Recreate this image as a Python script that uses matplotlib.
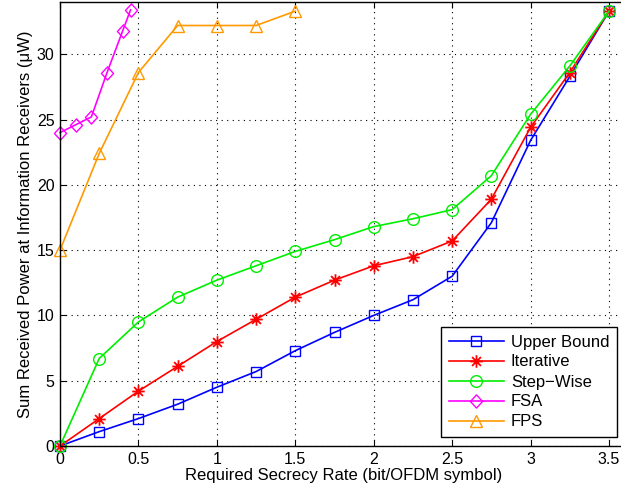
import numpy as np
import matplotlib.pyplot as plt
from matplotlib.path import Path

plt.rcParams['font.family'] = ['Liberation Sans', 'DejaVu Sans']

rate = [0, 0.25, 0.5, 0.75, 1.0, 1.25, 1.5, 1.75, 2.0, 2.25, 2.5, 2.75, 3.0, 3.25, 3.5]
upper_bound = [0, 1.1, 2.1, 3.2, 4.5, 5.7, 7.3, 8.7, 10.0, 11.2, 13.0, 17.1, 23.4, 28.3, 33.3]
iterative = [0, 2.1, 4.2, 6.1, 8.0, 9.7, 11.4, 12.7, 13.8, 14.5, 15.7, 18.9, 24.4, 28.6, 33.3]
step_wise = [0, 6.7, 9.5, 11.4, 12.7, 13.8, 14.9, 15.8, 16.8, 17.4, 18.1, 20.7, 25.4, 29.1, 33.3]

fsa_rate = [0, 0.1, 0.2, 0.3, 0.4, 0.45]
fsa = [24.0, 24.6, 25.2, 28.6, 31.8, 33.4]

fps_rate = [0, 0.25, 0.5, 0.75, 1.0, 1.25, 1.5]
fps = [15.0, 22.4, 28.6, 32.2, 32.2, 32.2, 33.3]

# 8-armed asterisk and a diamond
d = 0.7071
star = Path([(-1, 0), (1, 0), (0, -1), (0, 1), (-d, -d), (d, d), (-d, d), (d, -d)],
            [Path.MOVETO, Path.LINETO] * 4)
diamond = Path([(0, -1), (0.92, 0), (0, 1), (-0.92, 0), (0, -1)],
               [Path.MOVETO, Path.LINETO, Path.LINETO, Path.LINETO, Path.CLOSEPOLY])

xmax = 3.62
fig = plt.figure(figsize=(6.21, 4.95), dpi=100)
# x axis runs slightly past 3.5, so the right spine lands off the canvas
ax = fig.add_axes([60 / 621, 49 / 495, 549 * xmax / 3.5 / 621, 444 / 495])
ax.spines['right'].set_visible(False)

lw = 1.2
ax.plot(rate, upper_bound, '-', marker='s', color='#0000ff', mfc='none', ms=6.5, lw=lw,
        clip_on=False, label='Upper Bound')
ax.plot(rate, iterative, '-', marker=star, color='#ff0000', mfc='none', ms=9, lw=lw, mew=1.3,
        clip_on=False, label='Iterative')
ax.plot(rate, step_wise, '-', marker='o', color='#00ee00', mfc='none', ms=8.4, lw=lw,
        clip_on=False, label='Step\u2212Wise')
ax.plot(fsa_rate, fsa, '-', marker=diamond, color='#ff00ff', mfc='none', ms=9.5, lw=lw,
        clip_on=False, label='FSA')
ax.plot(fps_rate, fps, '-', marker='^', color='#ff9900', mfc='none', ms=8, lw=lw,
        clip_on=False, label='FPS')

ax.set_xlim(0, xmax)
ax.set_ylim(0, 34)
ax.set_xticks(np.arange(0, 3.51, 0.5))
ax.set_xticklabels(['0', '0.5', '1', '1.5', '2', '2.5', '3', '3.5'])
ax.set_yticks(range(0, 31, 5))
ax.tick_params(direction='in', top=True, right=False, labelsize=11.5, length=4, pad=4)
ax.grid(True, linestyle=(0, (1, 4)), color='black', lw=0.8)
for s in ax.spines.values():
    s.set_linewidth(1.0)

ax.set_xlabel('Required Secrecy Rate (bit/OFDM symbol)', fontsize=12, labelpad=1)
ax.set_ylabel('Sum Received Power at Information Receivers (\u03bcW)', fontsize=12, labelpad=3)

leg = ax.legend(loc='lower right', bbox_to_anchor=(617 / 621, 58 / 495),
                bbox_transform=fig.transFigure, borderaxespad=0, fontsize=12,
                fancybox=False, framealpha=1, edgecolor='black', handlelength=3.3,
                handletextpad=0.45, borderpad=0.45, labelspacing=0.3)
leg.get_frame().set_linewidth(1.0)

fig.savefig('out.png', dpi=100)
